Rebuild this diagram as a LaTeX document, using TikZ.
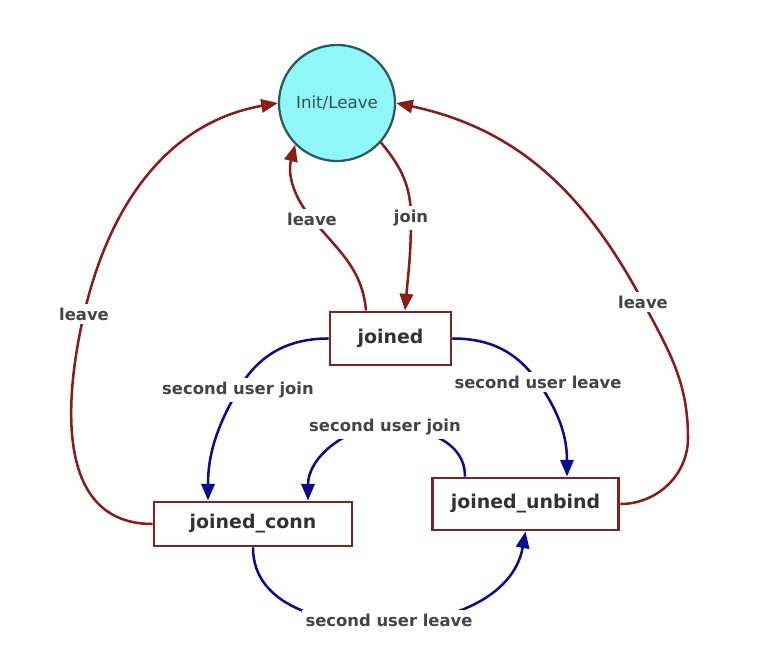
\documentclass[tikz,border=0pt]{standalone}
\usepackage{fontspec}
\setmainfont{DejaVu Sans}
\usetikzlibrary{arrows.meta,calc}
\definecolor{edgered}{RGB}{139,28,28}
\definecolor{boxred}{RGB}{130,34,34}
\definecolor{edgeblue}{RGB}{12,12,140}
\definecolor{initfill}{RGB}{143,247,248}
\definecolor{initdraw}{RGB}{46,90,90}
\definecolor{textgray}{RGB}{50,50,50}
\definecolor{labgray}{RGB}{68,68,68}
\definecolor{inittext}{RGB}{50,80,85}
\begin{document}
\begin{tikzpicture}[x=0.75pt,y=-0.75pt,
  statebox/.style={rectangle, draw=boxred, line width=2.2pt, fill=white, inner sep=0pt,
    font=\bfseries\fontsize{14.2}{16}\selectfont, text=textgray},
  initstate/.style={circle, draw=initdraw, line width=1.7pt, fill=initfill, inner sep=0pt,
    minimum size=87pt, font=\fontsize{12.5}{14}\selectfont, text=inittext},
  lab/.style={fill=white, inner sep=3pt, font=\bfseries\fontsize{12.3}{14}\selectfont, text=labgray},
  redge/.style={draw=edgered, line width=1.9pt, -{Triangle[length=12.5pt,width=10pt]}},
  bedge/.style={draw=edgeblue, line width=1.9pt, -{Triangle[length=12.5pt,width=10pt]}}]
\path[use as bounding box, fill=white] (0,0) rectangle (758,664);

\node[initstate] (init) at (337,103) {Init/Leave};
\node[statebox, minimum width=90.75pt, minimum height=39.75pt] (joined) at (390.5,338.5) {joined};
\node[statebox, minimum width=148.5pt, minimum height=33pt] (conn) at (253,524) {joined\_conn};
\node[statebox, minimum width=140pt, minimum height=39pt] (unbind) at (525.5,504) {joined\_unbind};

\coordinate (l1) at (312,219);
\coordinate (l2) at (411,218);
\coordinate (l3) at (84,314);
\coordinate (l4) at (643,302);
\coordinate (r1) at (688,438);
\coordinate (l5) at (238,390);
\coordinate (l6) at (538,382);
\coordinate (l7) at (385,427);
\coordinate (l8) at (382,624);

% red edges
\draw[redge] ($(joined.north)+(-24.5,0)$) to[out=95,in=-50] (l1) to[out=130,in=-105] (init.225);
\draw[redge] (init.-42) to[out=-50,in=90] (l2) to[out=-90,in=85] ($(joined.north)+(14.5,0)$);
\draw[redge] (conn.west) to[out=180,in=-103,looseness=1.1] (l3) to[out=77,in=190] (init.west);
\draw[redge] (unbind.east) to[out=0,in=-90] (r1) to[out=90,in=-62] (l4) to[out=118,in=-12] (init.east);

% blue edges
\draw[bedge] (joined.west) to[out=180,in=60] (l5) to[out=240,in=90] ($(conn.north)+(-45,0)$);
\draw[bedge] (joined.east) to[out=0,in=125] (l6) to[out=-55,in=90] ($(unbind.north)+(41.5,0)$);
\draw[bedge] ($(unbind.north)+(-60.5,0)$) to[out=90,in=0] (l7) to[out=180,in=90] ($(conn.north)+(55,0)$);
\draw[bedge] (conn.south) to[out=-90,in=180] (l8) to[out=0,in=-100] (unbind.south);

% labels
\node[lab] (t1) at (l1) {leave};
\node[lab] (t2) at (l2) {join};
\node[lab] (t3) at (l3) {leave};
\node[lab] (t4) at (l4) {leave};
\node[lab] (t5) at (l5) {second user join};
\node[lab] (t6) at (l6) {second user leave};
\node[lab] (t7) at (l7) {second user join};
\node[lab] (t8) at (389,620) {second user leave};
\end{tikzpicture}
\end{document}
